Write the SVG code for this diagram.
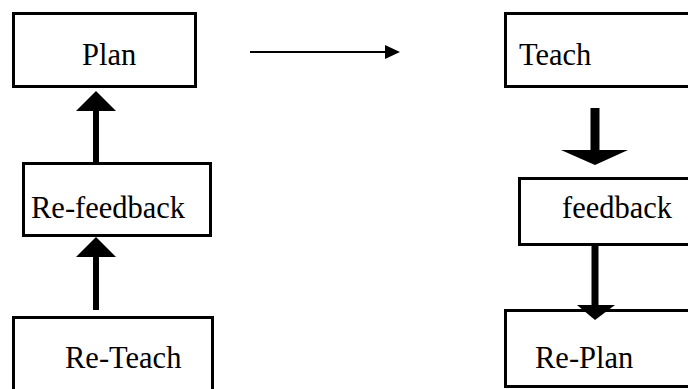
<svg xmlns="http://www.w3.org/2000/svg" width="688" height="389" viewBox="0 0 688 389">
<style>
.box{fill:#fff;stroke:#000;stroke-width:3}
.lbl{font-family:"Liberation Serif","Times New Roman",serif;font-size:30.5px;fill:#000}
.shaft{stroke:#000;fill:none}
.head{fill:#000;stroke:none}
</style>
<rect width="688" height="389" fill="#fff"/>
<g id="plan"><rect class="box" x="13.5" y="13.5" width="182" height="73"/><text class="lbl" x="82" y="65">Plan</text></g>
<g id="re-feedback"><rect class="box" x="23.5" y="163.5" width="187" height="72"/><text class="lbl" x="31" y="218">Re-feedback</text></g>
<g id="re-teach"><rect class="box" x="13.5" y="317.5" width="199" height="80"/><text class="lbl" x="65" y="368">Re-Teach</text></g>
<g id="teach"><rect class="box" x="505.5" y="13.5" width="200" height="73"/><text class="lbl" x="519" y="65">Teach</text></g>
<g id="feedback"><rect class="box" x="519.5" y="178.5" width="190" height="66"/><text class="lbl" x="562" y="218">feedback</text></g>
<g id="re-plan"><rect class="box" x="505.5" y="310.5" width="200" height="76"/><text class="lbl" x="535" y="368">Re-Plan</text></g>
<g id="connectors">
<line class="shaft" x1="96" y1="163" x2="96" y2="108" stroke-width="6"/>
<polygon class="head" points="96,91 116,111 76,111"/>
<line class="shaft" x1="96" y1="310" x2="96" y2="254" stroke-width="6"/>
<polygon class="head" points="96,237 116,257 76,257"/>
<line class="shaft" x1="250" y1="52" x2="388" y2="52" stroke-width="2"/>
<polygon class="head" points="400,52 385,45 385,59"/>
<line class="shaft" x1="595" y1="108" x2="595" y2="152" stroke-width="9"/>
<polygon class="head" points="561,150 628,150 595,165"/>
<line class="shaft" x1="595" y1="245" x2="595" y2="307" stroke-width="7"/>
<polygon class="head" points="577,305 615,305 595,320"/>
</g>
</svg>
